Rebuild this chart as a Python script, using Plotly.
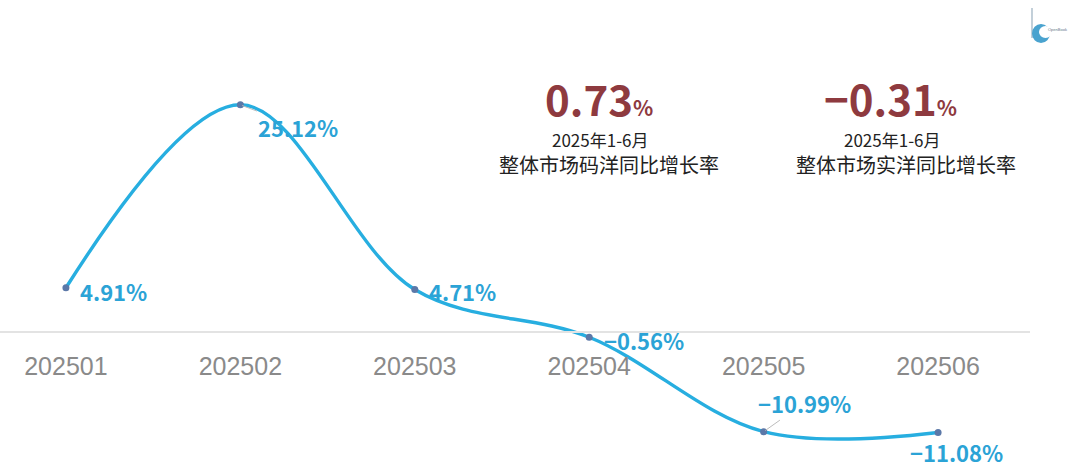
import plotly.graph_objects as go

months = ["202501", "202502", "202503", "202504", "202505", "202506"]
growth = [4.91, 25.12, 4.71, -0.56, -10.99, -11.08]
labels = ["4.91%", "25.12%", "4.71%", "−0.56%", "−10.99%", "−11.08%"]

kpi_values = ["0.73", "−0.31"]
kpi_line1 = ["2025年1-6月", "2025年1-6月"]
kpi_line2 = ["整体市场码洋同比增长率", "整体市场实洋同比增长率"]

# label placement styles (pixel offsets)
label_style = [
    dict(showarrow=False, xanchor="left", xshift=12, yshift=-3),
    dict(showarrow=True, ax=58, ay=22),
    dict(showarrow=False, xanchor="left", xshift=12, yshift=-1),
    dict(showarrow=False, xanchor="left", xshift=13, yshift=-3),
    dict(showarrow=True, ax=41, ay=-29),
    dict(showarrow=False, xanchor="center", xshift=18, yshift=-20),
]

LINE = "#27aee0"
LABEL = "#2ba3d6"
RED = "#8e3a3f"
W, H = 1080, 473
PW = 1030  # plot area width (paper coordinates span this)

ymin, ymax = -15.56, 36.7


def px(xp):
    return xp / PW


def py(yp):
    return 1 - yp / H


fig = go.Figure()
fig.add_trace(go.Scatter(
    x=list(range(len(months))), y=growth, mode="lines+markers",
    line=dict(color=LINE, width=3.4, shape="spline", smoothing=1.0),
    marker=dict(color="#5b78a8", size=7),
    hoverinfo="skip", cliponaxis=False,
))

ann = []
for i, (v, t) in enumerate(zip(growth, labels)):
    st = dict(label_style[i])
    a = dict(x=i, y=v, text=t, xref="x", yref="y",
             font=dict(family="Noto Sans CJK SC", size=22, color=LABEL, weight="bold"))
    if st.get("showarrow"):
        a.update(showarrow=True, arrowhead=0, arrowwidth=1, arrowcolor="#bdbdbd",
                 ax=st["ax"], ay=st["ay"], axref="pixel", ayref="pixel", standoff=2)
    else:
        a.update(showarrow=False, xanchor=st["xanchor"], xshift=st["xshift"], yshift=st["yshift"])
    ann.append(a)

kpi_big_x = [599, 890]
kpi_l1_x = [600, 892]
kpi_l2_x = [609, 906]
for k, val in enumerate(kpi_values):
    ann.append(dict(xref="paper", yref="paper", x=px(kpi_big_x[k]), y=py(97), showarrow=False,
                    text=val + "<span style='font-size:21px'>%</span>", borderpad=0,
                    font=dict(family="Noto Sans CJK SC", size=42, color=RED, weight="bold"),
                    xanchor="center", yanchor="middle"))
    ann.append(dict(xref="paper", yref="paper", x=px(kpi_l1_x[k]), y=py(139), showarrow=False,
                    text=kpi_line1[k], borderpad=0,
                    font=dict(family="Noto Sans CJK SC", size=17, color="#222222"),
                    xanchor="center", yanchor="middle"))
    ann.append(dict(xref="paper", yref="paper", x=px(kpi_l2_x[k]), y=py(164.5), showarrow=False,
                    text=kpi_line2[k], borderpad=0,
                    font=dict(family="Noto Sans CJK SC", size=20, color="#222222"),
                    xanchor="center", yanchor="middle"))

# tiny logo caption
ann.append(dict(xref="paper", yref="paper", x=px(1046), y=py(29), showarrow=False,
                text="OpenBook", font=dict(family="Liberation Sans", size=4, color="#667788"),
                xanchor="left", yanchor="middle"))

fig.update_layout(
    width=W, height=H,
    margin=dict(l=0, r=W - PW, t=0, b=0),
    paper_bgcolor="white", plot_bgcolor="white",
    showlegend=False,
    annotations=ann,
    xaxis=dict(
        range=[-0.378, 5.527], tickmode="array",
        tickvals=list(range(len(months))), ticktext=months,
        anchor="free", position=(0 - ymin) / (ymax - ymin),
        showline=True, linecolor="#e3e3e3", linewidth=1.5,
        showgrid=False, zeroline=False, ticks="",
        ticklabelstandoff=12,
        tickfont=dict(family="Liberation Sans", size=25, color="#8a8a8a"),
    ),
    yaxis=dict(range=[ymin, ymax], visible=False, showgrid=False, zeroline=False),
)

# small logo mark top-right
fig.add_shape(type="line", xref="paper", yref="paper",
              x0=px(1032), x1=px(1032), y0=py(8), y1=py(38),
              line=dict(color="#9ab0c0", width=1.2))
fig.add_shape(type="circle", xref="paper", yref="paper",
              x0=px(1032), x1=px(1050), y0=py(43), y1=py(24),
              fillcolor="#4aa3cf", line=dict(width=0))
fig.add_shape(type="circle", xref="paper", yref="paper",
              x0=px(1039), x1=px(1052), y0=py(38), y1=py(26),
              fillcolor="white", line=dict(width=0))

fig.write_html("out.html", config={"displayModeBar": False},
               post_script="document.body.style.margin='0';document.body.style.padding='0';")
